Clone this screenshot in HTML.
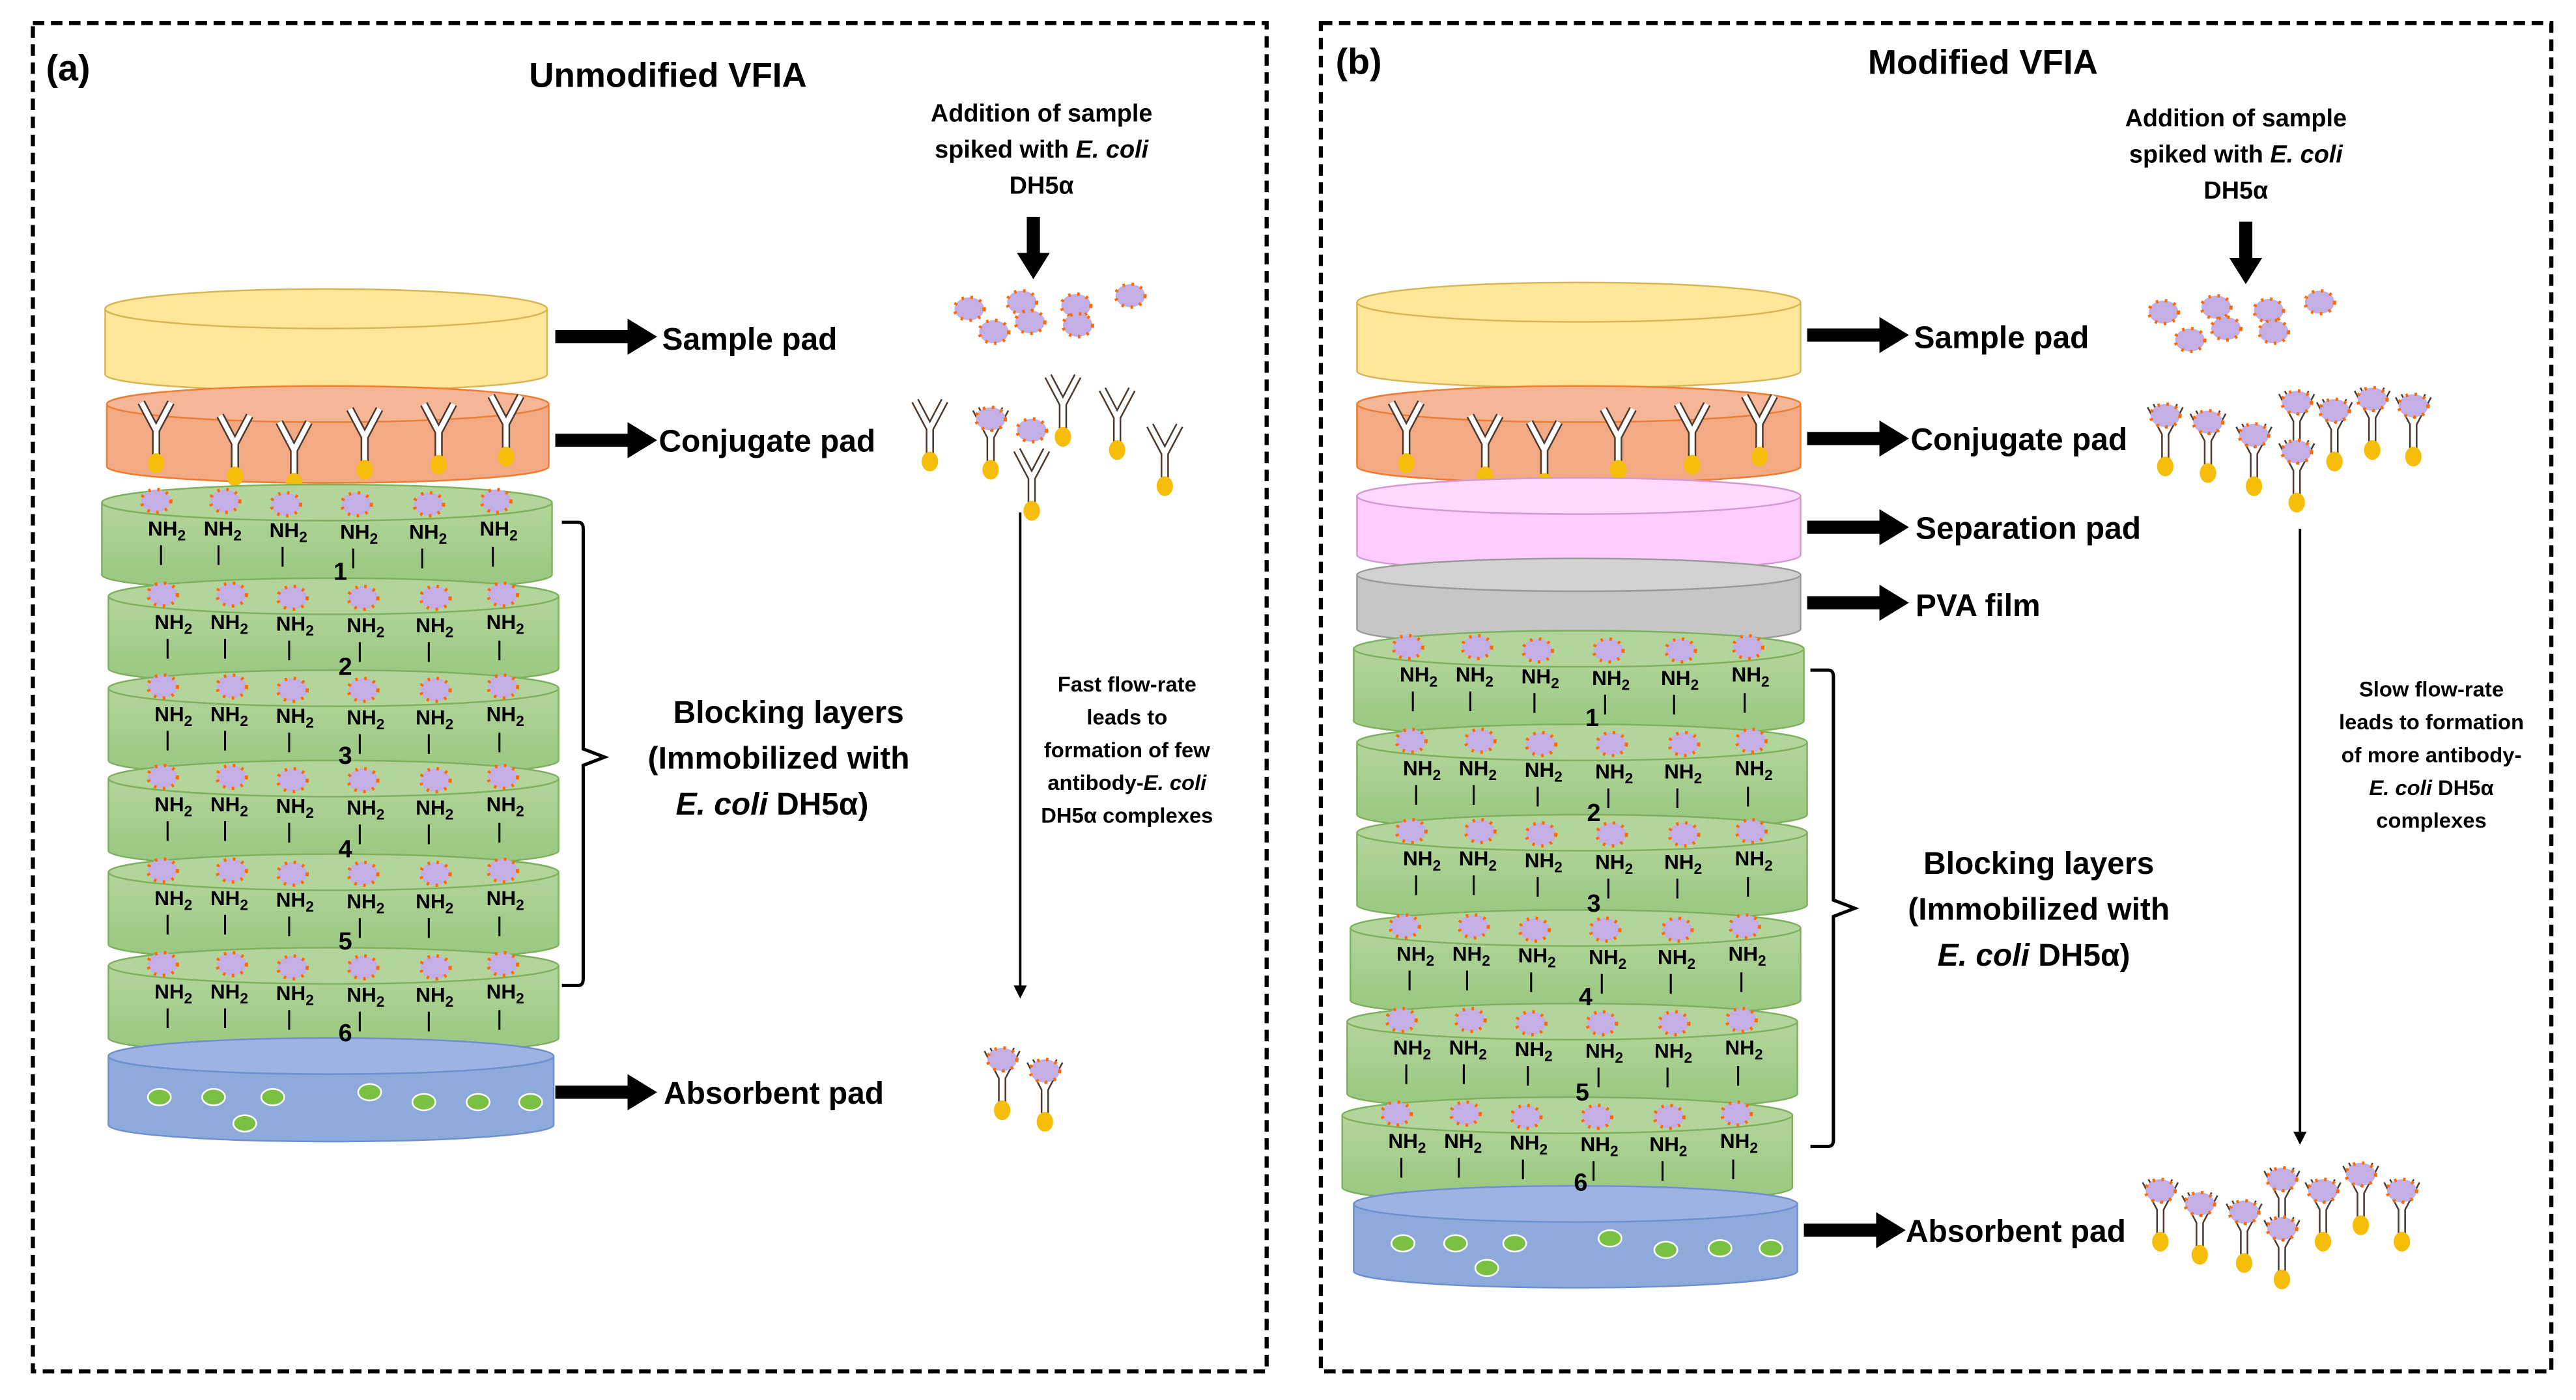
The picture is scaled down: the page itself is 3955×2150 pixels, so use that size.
<!DOCTYPE html>
<html><head><meta charset="utf-8"><style>
html,body{margin:0;padding:0;background:#fff}
svg{display:block}
text{font-family:"Liberation Sans",sans-serif;font-weight:bold;fill:#000}
</style></head><body>
<svg width="3955" height="2150" viewBox="0 0 1568 852.4" xmlns="http://www.w3.org/2000/svg">
<defs>
<linearGradient id="gg" x1="0" y1="0" x2="0" y2="1"><stop offset="0" stop-color="#b3d59b"/><stop offset="1" stop-color="#9cc983"/></linearGradient>
<g id="bac"><ellipse rx="9" ry="7" fill="#c4aee6" stroke="#ff6a00" stroke-width="2" stroke-dasharray="1.5 4"/></g>
<g id="ab">
<g stroke="#4a3a30" stroke-width="5" fill="none"><path d="M0,-4 L-9,-21 M0,-4 L9,-21 M0,-4 V12"/></g>
<g stroke="#fff" stroke-width="3" fill="none"><path d="M0,-4 L-9,-21 M0,-4 L9,-21 M0,-4 V12"/></g>
<ellipse cx="0" cy="16" rx="5" ry="6" fill="#f6bd0b"/>
</g>
<g id="cx"><use href="#ab"/><use href="#bac" x="0" y="-15"/></g>
<g id="gl">
<ellipse cx="137" cy="44" rx="137" ry="10" fill="#9cc983" stroke="#7eb15e"/>
<rect x="0" y="0" width="274" height="44" fill="url(#gg)"/>
<path d="M0,0 V44 M274,0 V44" stroke="#7eb15e"/>
<ellipse cx="137" cy="0" rx="137" ry="11" fill="#b3d59b" stroke="#7eb15e"/>
<use href="#bac" x="33" y="-1"/><use href="#bac" x="75" y="-1"/><use href="#bac" x="112" y="1"/><use href="#bac" x="155" y="1"/><use href="#bac" x="199" y="1"/><use href="#bac" x="240" y="-1"/>
<g font-size="12.5"><text x="28" y="20">NH<tspan font-size="9" dy="3">2</tspan></text><text x="62" y="20">NH<tspan font-size="9" dy="3">2</tspan></text><text x="102" y="21">NH<tspan font-size="9" dy="3">2</tspan></text><text x="145" y="22">NH<tspan font-size="9" dy="3">2</tspan></text><text x="187" y="22">NH<tspan font-size="9" dy="3">2</tspan></text><text x="230" y="20">NH<tspan font-size="9" dy="3">2</tspan></text></g>
<path d="M36,26 V38 M71,26 V38 M110,27 V39 M153,28 V40 M195,28 V40 M238,27 V39" stroke="#000" stroke-width="1.2"/>
</g>
<g id="arr"><rect x="0" y="-4" width="46" height="8" fill="#000"/><path d="M44,-11 L62,0 L44,11 Z" fill="#000"/></g>
</defs>

<rect x="20" y="14" width="751" height="821" fill="none" stroke="#000" stroke-width="2.5" stroke-dasharray="7 4"/>
<rect x="804" y="14" width="749" height="821" fill="none" stroke="#000" stroke-width="2.5" stroke-dasharray="7 4"/>

<text x="28" y="49" font-size="22">(a)</text>
<text x="322" y="53" font-size="21">Unmodified VFIA</text>
<text x="813" y="45" font-size="22">(b)</text>
<text x="1137" y="45" font-size="21">Modified VFIA</text>

<!-- LEFT -->
<text x="634" y="74" font-size="15" text-anchor="middle">Addition of sample</text>
<text x="634" y="96" font-size="15" text-anchor="middle">spiked with <tspan font-style="italic">E. coli</tspan></text>
<text x="634" y="118" font-size="15" text-anchor="middle">DH5α</text>
<rect x="625" y="132" width="8" height="24" fill="#000"/><path d="M619,154 L639,154 L629,170 Z" fill="#000"/>

<ellipse cx="198.5" cy="228" rx="134.5" ry="10" fill="#ffe699" stroke="#d6b656"/>
<rect x="64" y="188" width="269" height="40" fill="#ffe699"/><path d="M64,188V228M333,188V228" stroke="#d6b656"/>
<ellipse cx="198.5" cy="188" rx="134.5" ry="12" fill="#ffe699" stroke="#d6b656"/>

<ellipse cx="199.5" cy="284" rx="134.5" ry="10" fill="#f4a985" stroke="#ed7d31"/>
<rect x="65" y="246" width="269" height="38" fill="#f4a985"/><path d="M65,246V284M334,246V284" stroke="#ed7d31"/>
<ellipse cx="199.5" cy="246" rx="134.5" ry="11" fill="#f5b597" stroke="#ed7d31"/>
<use href="#ab" x="95" y="266"/><use href="#ab" x="143" y="274"/><use href="#ab" x="179" y="278"/><use href="#ab" x="222" y="270"/><use href="#ab" x="267" y="267"/><use href="#ab" x="308" y="262"/>

<use href="#gl" x="62" y="306"/>
<use href="#gl" x="66" y="363"/>
<use href="#gl" x="66" y="419"/>
<use href="#gl" x="66" y="474"/>
<use href="#gl" x="66" y="531"/>
<use href="#gl" x="66" y="588"/>

<ellipse cx="201.5" cy="685" rx="135.5" ry="10" fill="#8eaadb" stroke="#6f8fcf"/>
<rect x="66" y="643" width="271" height="42" fill="#8eaadb"/><path d="M66,643V685M337,643V685" stroke="#6f8fcf"/>
<ellipse cx="201.5" cy="643" rx="135.5" ry="11" fill="#9db4e2" stroke="#6f8fcf"/>
<g fill="#7ac143" stroke="#fff" stroke-width="1"><ellipse cx="97" cy="668" rx="7" ry="5"/><ellipse cx="130" cy="668" rx="7" ry="5"/><ellipse cx="166" cy="668" rx="7" ry="5"/><ellipse cx="149" cy="684" rx="7" ry="5"/><ellipse cx="225" cy="665" rx="7" ry="5"/><ellipse cx="258" cy="671" rx="7" ry="5"/><ellipse cx="291" cy="671" rx="7" ry="5"/><ellipse cx="323" cy="671" rx="7" ry="5"/></g>
<g font-size="15"><text x="203" y="353">1</text><text x="206" y="411">2</text><text x="206" y="465">3</text><text x="206" y="522">4</text><text x="206" y="578">5</text><text x="206" y="634">6</text></g>

<path d="M342,318 H352 Q355,318 355,322 V456 L368,461 L355,466 V596 Q355,600 352,600 H342" fill="none" stroke="#000" stroke-width="2"/>

<use href="#arr" x="338" y="205"/><text x="403" y="213" font-size="19">Sample pad</text>
<use href="#arr" x="338" y="268"/><text x="401" y="275" font-size="19">Conjugate pad</text>
<use href="#arr" x="338" y="665"/><text x="404" y="672" font-size="19">Absorbent pad</text>
<text x="480" y="440" font-size="19" text-anchor="middle">Blocking layers</text>
<text x="474" y="468" font-size="19" text-anchor="middle">(Immobilized with</text>
<text x="470" y="496" font-size="19" text-anchor="middle"><tspan font-style="italic">E. coli</tspan> DH5α)</text>

<g><use href="#bac" x="590" y="188"/><use href="#bac" x="622" y="184"/><use href="#bac" x="655" y="186"/><use href="#bac" x="688" y="180"/><use href="#bac" x="605" y="202"/><use href="#bac" x="627" y="196"/><use href="#bac" x="656" y="198"/></g>
<use href="#ab" x="566" y="265"/><use href="#cx" x="603" y="270"/><use href="#ab" x="628" y="295"/><use href="#bac" x="628" y="262"/><use href="#ab" x="647" y="250"/><use href="#ab" x="680" y="258"/><use href="#ab" x="709" y="280"/>

<path d="M621,312 V602" stroke="#000" stroke-width="1.5"/><path d="M617,600 L625,600 L621,608 Z" fill="#000"/>
<g font-size="13" text-anchor="middle"><text x="686" y="421">Fast flow-rate</text><text x="686" y="441">leads to</text><text x="686" y="461">formation of few</text><text x="686" y="481">antibody-<tspan font-style="italic">E. coli</tspan></text><text x="686" y="501">DH5α complexes</text></g>
<use href="#cx" x="610" y="660"/><use href="#cx" x="636" y="667"/>

<!-- RIGHT -->
<text x="1361" y="77" font-size="15" text-anchor="middle">Addition of sample</text>
<text x="1361" y="99" font-size="15" text-anchor="middle">spiked with <tspan font-style="italic">E. coli</tspan></text>
<text x="1361" y="121" font-size="15" text-anchor="middle">DH5α</text>
<rect x="1363" y="135" width="8" height="24" fill="#000"/><path d="M1357,157 L1377,157 L1367,173 Z" fill="#000"/>

<ellipse cx="961" cy="226" rx="135" ry="10" fill="#ffe699" stroke="#d6b656"/>
<rect x="826" y="184" width="270" height="42" fill="#ffe699"/><path d="M826,184V226M1096,184V226" stroke="#d6b656"/>
<ellipse cx="961" cy="184" rx="135" ry="12" fill="#ffe699" stroke="#d6b656"/>

<ellipse cx="961" cy="284" rx="135" ry="10" fill="#f4a985" stroke="#ed7d31"/>
<rect x="826" y="246" width="270" height="38" fill="#f4a985"/><path d="M826,246V284M1096,246V284" stroke="#ed7d31"/>
<ellipse cx="961" cy="246" rx="135" ry="11" fill="#f5b597" stroke="#ed7d31"/>
<use href="#ab" x="856" y="266"/><use href="#ab" x="904" y="274"/><use href="#ab" x="940" y="278"/><use href="#ab" x="985" y="270"/><use href="#ab" x="1030" y="267"/><use href="#ab" x="1071" y="262"/>

<ellipse cx="961" cy="338" rx="135" ry="10" fill="#ffccff" stroke="#d39ad3"/>
<rect x="826" y="302" width="270" height="36" fill="#ffccff"/><path d="M826,302V338M1096,302V338" stroke="#d39ad3"/>
<ellipse cx="961" cy="302" rx="135" ry="11" fill="#ffd9ff" stroke="#d39ad3"/>

<ellipse cx="961" cy="383" rx="135" ry="10" fill="#c6c6c6" stroke="#9a9a9a"/>
<rect x="826" y="350" width="270" height="33" fill="#c6c6c6"/><path d="M826,350V383M1096,350V383" stroke="#9a9a9a"/>
<ellipse cx="961" cy="350" rx="135" ry="10" fill="#d2d2d2" stroke="#9a9a9a"/>

<use href="#gl" x="824" y="395"/>
<use href="#gl" x="826" y="452"/>
<use href="#gl" x="826" y="507"/>
<use href="#gl" x="822" y="565"/>
<use href="#gl" x="820" y="622"/>
<use href="#gl" x="817" y="679"/>

<ellipse cx="959" cy="774" rx="135" ry="10" fill="#8eaadb" stroke="#6f8fcf"/>
<rect x="824" y="733" width="270" height="41" fill="#8eaadb"/><path d="M824,733V774M1094,733V774" stroke="#6f8fcf"/>
<ellipse cx="959" cy="733" rx="135" ry="11" fill="#9db4e2" stroke="#6f8fcf"/>
<g fill="#7ac143" stroke="#fff" stroke-width="1"><ellipse cx="854" cy="757" rx="7" ry="5"/><ellipse cx="886" cy="757" rx="7" ry="5"/><ellipse cx="922" cy="757" rx="7" ry="5"/><ellipse cx="905" cy="772" rx="7" ry="5"/><ellipse cx="980" cy="754" rx="7" ry="5"/><ellipse cx="1014" cy="761" rx="7" ry="5"/><ellipse cx="1047" cy="760" rx="7" ry="5"/><ellipse cx="1078" cy="760" rx="7" ry="5"/></g>
<g font-size="15"><text x="965" y="442">1</text><text x="966" y="500">2</text><text x="966" y="555">3</text><text x="961" y="612">4</text><text x="959" y="670">5</text><text x="958" y="725">6</text></g>

<path d="M1102,408 H1113 Q1116,408 1116,412 V548 L1129,553 L1116,558 V694 Q1116,698 1113,698 H1102" fill="none" stroke="#000" stroke-width="2"/>

<use href="#arr" x="1100" y="204"/><text x="1165" y="212" font-size="19">Sample pad</text>
<use href="#arr" x="1100" y="267"/><text x="1163" y="274" font-size="19">Conjugate pad</text>
<use href="#arr" x="1100" y="321"/><text x="1166" y="328" font-size="19">Separation pad</text>
<use href="#arr" x="1100" y="367"/><text x="1166" y="375" font-size="19">PVA film</text>
<use href="#arr" x="1098" y="749"/><text x="1160" y="756" font-size="19">Absorbent pad</text>
<text x="1241" y="532" font-size="19" text-anchor="middle">Blocking layers</text>
<text x="1241" y="560" font-size="19" text-anchor="middle">(Immobilized with</text>
<text x="1238" y="588" font-size="19" text-anchor="middle"><tspan font-style="italic">E. coli</tspan> DH5α)</text>

<g><use href="#bac" x="1317" y="190"/><use href="#bac" x="1349" y="187"/><use href="#bac" x="1381" y="189"/><use href="#bac" x="1412" y="184"/><use href="#bac" x="1333" y="207"/><use href="#bac" x="1355" y="200"/><use href="#bac" x="1384" y="202"/></g>
<use href="#cx" x="1318" y="268"/><use href="#cx" x="1344" y="272"/><use href="#cx" x="1372" y="280"/><use href="#cx" x="1398" y="260"/><use href="#cx" x="1398" y="290"/><use href="#cx" x="1421" y="265"/><use href="#cx" x="1444" y="258"/><use href="#cx" x="1469" y="262"/>

<path d="M1400,322 V691" stroke="#000" stroke-width="1.5"/><path d="M1396,689 L1404,689 L1400,697 Z" fill="#000"/>
<g font-size="13" text-anchor="middle"><text x="1480" y="424">Slow flow-rate</text><text x="1480" y="444">leads to formation</text><text x="1480" y="464">of more antibody-</text><text x="1480" y="484"><tspan font-style="italic">E. coli</tspan> DH5α</text><text x="1480" y="504">complexes</text></g>
<use href="#cx" x="1315" y="740"/><use href="#cx" x="1339" y="748"/><use href="#cx" x="1366" y="753"/><use href="#cx" x="1389" y="733"/><use href="#cx" x="1389" y="763"/><use href="#cx" x="1414" y="740"/><use href="#cx" x="1437" y="730"/><use href="#cx" x="1462" y="740"/>
</svg>
</body></html>
